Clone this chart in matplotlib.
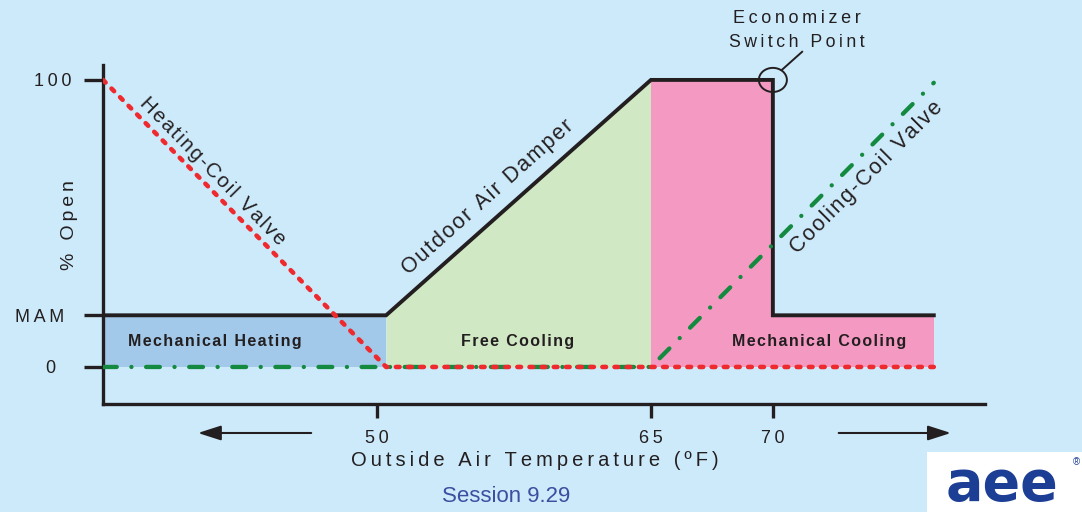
import numpy as np
import matplotlib
matplotlib.use('Agg')
import matplotlib.pyplot as plt
from matplotlib.patches import Ellipse, Rectangle

damper_temp = [35, 50.5, 65, 70, 70, 76.6]
damper_open = [18, 18, 100, 100, 18, 18]
heating_temp = [35, 50.5, 76.6]
heating_open = [100, 0, 0]
cooling_temp = [35, 65, 76.6]
cooling_open = [0, 0, 99]
zone_names = ['Mechanical Heating', 'Free Cooling', 'Mechanical Cooling']
zone_slices = [(0, 2), (1, 3), (2, 6)]
zone_colors = ['#a2c8ea', '#d1e8c5', '#f49ac2']
x_ticks = [50, 65, 70]
y_ticks = [0, 18, 100]
y_labels = ['0', 'MAM', '100']
switch_temp = 70

BG = '#cdeafb'
INK = '#231f20'
FONT = ['Liberation Sans', 'DejaVu Sans']
HAIR = '\u200a'
THIN = '\u2009'

# the drawing is not to scale: degrees above 65 are stretched
BREAK = 65
STRETCH = 1.335


def fwd(t):
    t = np.asarray(t, dtype=float)
    return np.where(t <= BREAK, t, BREAK + (t - BREAK) * STRETCH)


def inv(u):
    u = np.asarray(u, dtype=float)
    return np.where(u <= BREAK, u, BREAK + (u - BREAK) / STRETCH)


def spaced(s, sep=HAIR):
    return sep.join(s)


plt.rcParams['font.family'] = FONT

fig = plt.figure(figsize=(10.82, 5.12), dpi=100, facecolor=BG)
ax = fig.add_axes([103 / 1082, 1 - 404 / 512, (985 - 103) / 1082, (404 - 65) / 512])
ax.set_facecolor(BG)
ax.set_xscale('function', functions=(fwd, inv))
ax.set_xlim(35, 78.7)
ax.set_ylim(-12.9, 105.2)

# zones under the damper line
for (a, b), c in zip(zone_slices, zone_colors):
    ax.fill_between(damper_temp[a:b], 0, damper_open[a:b], color=c, lw=0, zorder=1)

ax.plot(damper_temp, damper_open, color=INK, lw=2.8, solid_joinstyle='miter', zorder=3)
ax.plot(cooling_temp, cooling_open, color='#138a3f', lw=3.1,
        linestyle=(0, (3.2, 3.4, 0.01, 3.4)), dash_capstyle='round', zorder=4)
ax.plot(heating_temp, heating_open, color='#ee2a2e', lw=3.3,
        linestyle=(0, (0.8, 1.85)), dash_capstyle='round', zorder=5)

# zone labels
zone_x = [41.1, 57.7, 71.9]
for name, zx in zip(zone_names, zone_x):
    ax.text(zx, 9, spaced(name), ha='center', va='center', fontsize=11.5,
            fontweight='bold', color=INK, zorder=6)

# line labels
ax.text(41.0, 68.3, spaced('Heating-Coil Valve'), rotation=-45.5, rotation_mode='anchor',
        ha='center', va='center', fontsize=14.8, color=INK, zorder=6)
ax.text(56.1, 59.0, spaced('Outdoor Air Damper'), rotation=41.7, rotation_mode='anchor',
        ha='center', va='center', fontsize=15.5, color=INK, zorder=6)
ax.text(73.85, 66.0, spaced('Cooling-Coil Valve'), rotation=45, rotation_mode='anchor',
        ha='center', va='center', fontsize=15.5, color=INK, zorder=6)

# economizer switch point
ax.add_patch(Ellipse((switch_temp, 100), 1.15, 8.4, fill=False, ec=INK, lw=1.4,
                     zorder=6, clip_on=False))
ax.plot([70.37, 71.2], [103.5, 109.8], color=INK, lw=1.4, clip_on=False)
ax.text(71.0, 121.5, spaced('Economizer', THIN), ha='center', va='center',
        fontsize=13, color=INK)
ax.text(71.0, 113.2, spaced('Switch Point', THIN), ha='center', va='center',
        fontsize=12.7, color=INK)

# axes styling
for side in ['top', 'right']:
    ax.spines[side].set_visible(False)
for side in ['left', 'bottom']:
    ax.spines[side].set_linewidth(2.4)
    ax.spines[side].set_color(INK)
ax.set_xticks(x_ticks)
ax.set_xticklabels([spaced(str(t), THIN) for t in x_ticks])
ax.set_xticks([], minor=True)
ax.set_yticks(y_ticks)
# trailing thin spaces nudge the shorter labels left, as in the drawing
y_trail = [4, 2, 0]
ax.set_yticklabels([spaced(l, THIN) + THIN * n for l, n in zip(y_labels, y_trail)])
ax.tick_params(axis='y', length=14, width=2.4, color=INK, pad=9,
               labelsize=13, labelcolor=INK)
ax.tick_params(axis='x', length=10, width=2.4, color=INK, pad=9,
               labelsize=13, labelcolor=INK)

# direction arrows
arrow = dict(arrowstyle='-|>,head_length=1.4,head_width=0.45', color=INK, lw=1.5,
             shrinkA=0, shrinkB=0)
ax.annotate('', xy=(40.2, -23), xytext=(46.4, -23), arrowprops=arrow,
            annotation_clip=False)
ax.annotate('', xy=(77.3, -23), xytext=(72.7, -23), arrowprops=arrow,
            annotation_clip=False)

fig.text(535 / 1082, 1 - 461 / 512, spaced('Outside Air Temperature (ºF)', THIN),
         ha='center', va='center', fontsize=14.5, color=INK)
fig.text(70 / 1082, 1 - 225 / 512, spaced('% Open', THIN), rotation=90,
         ha='center', va='center', fontsize=14, color=INK)

fig.text(506 / 1082, 1 - 497 / 512, 'Session 9.29', ha='center', va='center',
         fontsize=16, color='#3d4ea0')

# logo
fig.patches.append(Rectangle((927 / 1082, 0), 155 / 1082, 60 / 512, transform=fig.transFigure,
                             facecolor='white', edgecolor='none', zorder=0))
fig.text(1002 / 1082, 1 - 500 / 512, 'aee', ha='center', va='baseline', fontsize=40,
         fontweight='heavy', color='#1c3f95', family=['DejaVu Sans'])
fig.text(1076 / 1082, 1 - 462 / 512, '®', ha='center', va='center', fontsize=7,
         color='#1c3f95')

fig.savefig('out.png', dpi=100, facecolor=BG)
